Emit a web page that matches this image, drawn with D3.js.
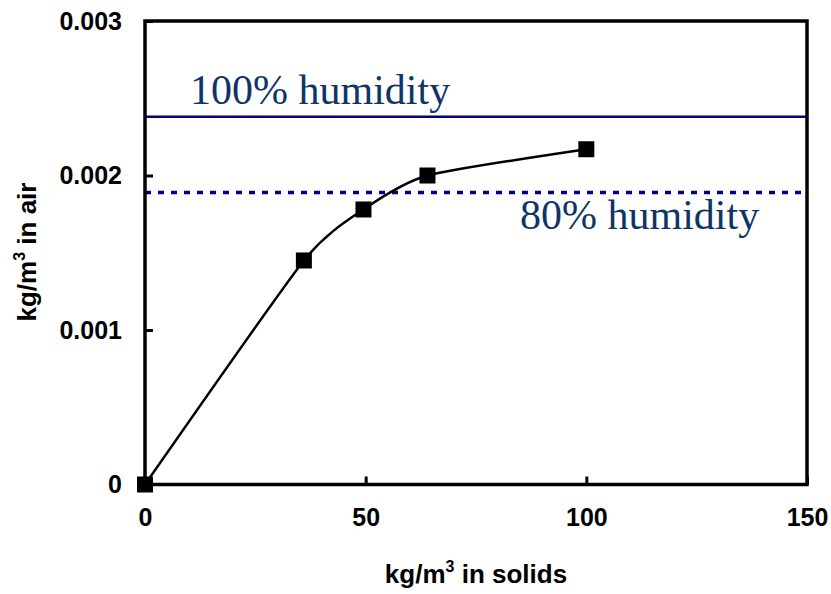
<!DOCTYPE html>
<html>
<head>
<meta charset="utf-8">
<script src="https://cdn.jsdelivr.net/npm/d3@7"></script>
<style>
  body { margin: 0; background: #fff; }
  text { font-family: "Liberation Sans", Arial, sans-serif; }
</style>
</head>
<body>
<script>
// data
const solids = [0, 36, 49.5, 64, 100];
const air = [0, 0.00145, 0.00178, 0.0020, 0.00217];
const humidityLevels = [0.00238, 0.00189];
const humidityLabels = ["100% humidity", "80% humidity"];
const xTicks = [0, 50, 100, 150];
const yTicks = [0, 0.001, 0.002, 0.003];

const w = 831, h = 594;
const m = { top: 21, right: 24, bottom: 110, left: 145 };

const svg = d3.select("body").append("svg")
  .attr("width", w)
  .attr("height", h);

const x = d3.scaleLinear().domain([0, 150]).range([m.left, w - m.right]);
const y = d3.scaleLinear().domain([0, 0.003]).range([h - m.bottom + 0.5, m.top]);

// humidity lines
svg.append("line")
  .attr("x1", x(0)).attr("x2", x(150))
  .attr("y1", y(humidityLevels[0])).attr("y2", y(humidityLevels[0]))
  .attr("stroke", "#000080").attr("stroke-width", 2.5);

svg.append("line")
  .attr("x1", x(0)).attr("x2", x(150))
  .attr("y1", y(humidityLevels[1])).attr("y2", y(humidityLevels[1]))
  .attr("stroke", "#000080").attr("stroke-width", 3.5)
  .attr("stroke-dasharray", "6,7");

svg.append("text")
  .attr("x", 190).attr("y", 104)
  .attr("fill", "#0f3466")
  .style("font-family", "'Liberation Serif', 'Times New Roman', serif")
  .style("font-size", "42px")
  .text(humidityLabels[0]);

svg.append("text")
  .attr("x", 520).attr("y", 229)
  .attr("fill", "#0f3466")
  .style("font-family", "'Liberation Serif', 'Times New Roman', serif")
  .style("font-size", "42px")
  .text(humidityLabels[1]);

// axes (ticks inside)
const xAxis = d3.axisBottom(x).tickValues(xTicks).tickSize(-8).tickPadding(24).tickFormat(d3.format("d"));
const yAxis = d3.axisLeft(y).tickValues(yTicks).tickSize(-8).tickPadding(23)
  .tickFormat(d => d === 0 ? "0" : d3.format(".3f")(d));

const gx = svg.append("g")
  .attr("transform", "translate(0," + y(0) + ")")
  .call(xAxis);
const gy = svg.append("g")
  .attr("transform", "translate(" + x(0) + ",0)")
  .call(yAxis);

[gx, gy].forEach(g => {
  g.select(".domain").remove();
  g.selectAll(".tick line").attr("stroke", "#000").attr("stroke-width", 3);
  g.selectAll(".tick text")
    .attr("fill", "#000")
    .style("font-size", "25px")
    .style("font-weight", "bold")
    .style("font-family", "'Liberation Sans', Arial, sans-serif");
});

// frame
svg.append("rect")
  .attr("x", x(0)).attr("y", y(0.003))
  .attr("width", x(150) - x(0))
  .attr("height", y(0) - y(0.003))
  .attr("fill", "none")
  .attr("stroke", "#000")
  .attr("stroke-width", 3.5);

// data line
const pts = solids.map((s, i) => [s, air[i]]);
const line = d3.line()
  .x(d => x(d[0]))
  .y(d => y(d[1]))
  .curve(d3.curveCardinal.tension(0.4));

svg.append("path")
  .datum(pts)
  .attr("d", line)
  .attr("fill", "none")
  .attr("stroke", "#000")
  .attr("stroke-width", 2.5);

svg.selectAll("rect.pt")
  .data(pts)
  .enter().append("rect")
  .attr("class", "pt")
  .attr("x", d => x(d[0]) - 8)
  .attr("y", d => y(d[1]) - 8)
  .attr("width", 16)
  .attr("height", 16)
  .attr("fill", "#000");

// axis titles
const xt = svg.append("text")
  .attr("x", 476).attr("y", 583)
  .attr("text-anchor", "middle")
  .style("font-size", "26px").style("font-weight", "bold");
xt.append("tspan").text("kg/m");
xt.append("tspan").attr("dy", -11).style("font-size", "16px").text("3");
xt.append("tspan").attr("dy", 11).text(" in solids");

const yt = svg.append("text")
  .attr("transform", "translate(36,252) rotate(-90)")
  .attr("text-anchor", "middle")
  .style("font-size", "26px").style("font-weight", "bold");
yt.append("tspan").text("kg/m");
yt.append("tspan").attr("dy", -11).style("font-size", "16px").text("3");
yt.append("tspan").attr("dy", 11).text(" in air");
</script>
</body>
</html>
